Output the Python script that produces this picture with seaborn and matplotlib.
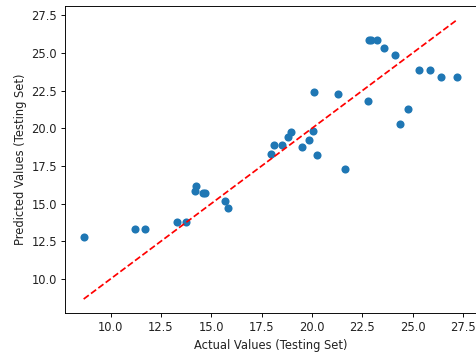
import matplotlib
matplotlib.use("Agg")
import matplotlib.pyplot as plt
import seaborn as sns
import pandas as pd

actual = [8.66, 11.19, 11.72, 13.30, 13.73, 14.24, 14.21, 14.57, 14.70, 15.68,
          15.83, 17.97, 18.12, 18.53, 18.81, 18.94, 19.52, 19.85, 20.06, 20.10,
          20.26, 21.30, 21.65, 22.77, 22.82, 22.95, 23.25, 23.58, 24.11, 24.36,
          24.77, 25.30, 25.84, 26.40, 27.19]
predicted = [12.80, 13.29, 13.29, 13.80, 13.80, 16.18, 15.83, 15.68, 15.68, 15.20,
             14.69, 18.27, 18.90, 18.90, 19.39, 19.74, 18.75, 19.23, 19.82, 22.39,
             18.25, 22.28, 17.30, 21.80, 25.86, 25.86, 25.86, 25.33, 24.85, 20.31,
             21.30, 23.86, 23.86, 23.38, 23.38]

df = pd.DataFrame({"actual": actual, "predicted": predicted})

k = 0.83
plt.rcParams.update({
    "font.size": 10 * k,
    "axes.linewidth": 0.8 * k,
    "xtick.major.size": 3.5 * k,
    "ytick.major.size": 3.5 * k,
    "xtick.major.width": 0.8 * k,
    "ytick.major.width": 0.8 * k,
    "xtick.major.pad": 3.5 * k,
    "ytick.major.pad": 3.5 * k,
    "axes.labelpad": 4 * k,
    "text.color": "#222222",
    "axes.labelcolor": "#222222",
    "xtick.labelcolor": "#222222",
    "ytick.labelcolor": "#222222",
})

fig = plt.figure(figsize=(4.76, 3.52), dpi=100)
ax = fig.add_axes([65 / 476, 39 / 352, 410.5 / 476, 307 / 352])

sns.scatterplot(data=df, x="actual", y="predicted", ax=ax, color="#1f77b4",
                s=34, linewidth=0, alpha=1)
lo, hi = min(actual), max(actual)
ax.plot([lo, hi], [lo, hi], "r--", lw=1.5 * k)

ax.set_xlabel("Actual Values (Testing Set)")
ax.set_ylabel("Predicted Values (Testing Set)")
ax.set_title("Actual vs Predicted Values (Testing Set)", fontsize=12 * k, pad=7.5)

fig.savefig("out.png", dpi=100)
